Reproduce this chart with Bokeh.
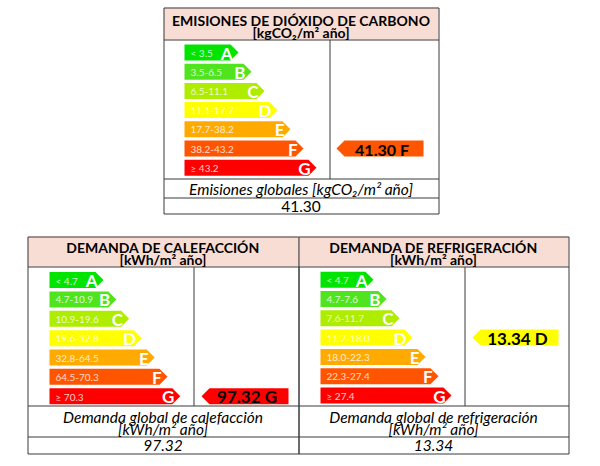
import numpy as np
from bokeh.plotting import figure
from bokeh.models import Range1d, ColumnDataSource
from bokeh.embed import file_html
from bokeh.resources import INLINE
from bokeh.core.properties import value

# ---------------- data ----------------
letters = ["A", "B", "C", "D", "E", "F", "G"]
class_colors = ["#00e400", "#50e41e", "#aeec00", "#ffff00", "#ffaa00", "#ff5500", "#ff0000"]

co2_ranges = ["< 3.5", "3.5-6.5", "6.5-11.1", "11.1-17.7", "17.7-38.2", "38.2-43.2", "≥ 43.2"]
co2_limits = [3.5, 6.5, 11.1, 17.7, 38.2, 43.2]
co2_value = 41.30

heat_ranges = ["< 4.7", "4.7-10.9", "10.9-19.6", "19.6-32.8", "32.8-64.5", "64.5-70.3", "≥ 70.3"]
heat_limits = [4.7, 10.9, 19.6, 32.8, 64.5, 70.3]
heat_value = 97.32

cool_ranges = ["< 4.7", "4.7-7.6", "7.6-11.7", "11.7-18.0", "18.0-22.3", "22.3-27.4", "≥ 27.4"]
cool_limits = [4.7, 7.6, 11.7, 18.0, 22.3, 27.4]
cool_value = 13.34

titles = ["EMISIONES DE DIÓXIDO DE CARBONO", "DEMANDA DE CALEFACCIÓN", "DEMANDA DE REFRIGERACIÓN"]
units = ["[kgCO₂/m² año]", "[kWh/m² año]", "[kWh/m² año]"]
footers = [["Emisiones globales [kgCO₂/m² año]"],
           ["Demanda global de calefacción", "[kWh/m² año]"],
           ["Demanda global de refrigeración", "[kWh/m² año]"]]

# ---------------- layout (screen pixels) ----------------
layouts = [
    dict(x0=163, x1=438, y0=7, yh=39, yc=178, yl=197, yv=213, xd=329,
         bl=184, tipA=238, tstep=13.0, cA=52, cstep=19.2, bh=16,
         ix0=336, ix1=423, ifs="16px", ty=19.5, uy=32, fy=[188], vy=205.5, vital=False),
    dict(x0=27, x1=298, y0=236, yh=266, yc=405, yl=436, yv=453, xd=193,
         bl=49, tipA=103, tstep=12.8, cA=279.6, cstep=19.35, bh=16,
         ix0=201, ix1=288, ifs="17px", ty=246.5, uy=259, fy=[416, 428], vy=445, vital=True),
    dict(x0=298, x1=568, y0=236, yh=266, yc=405, yl=436, yv=453, xd=464,
         bl=320, tipA=373, tstep=13.0, cA=279.2, cstep=19.3, bh=16,
         ix0=472, ix1=558, ifs="17px", ty=246.5, uy=259, fy=[416, 428], vy=445, vital=True),
]

panels = [
    (co2_ranges, co2_limits, co2_value),
    (heat_ranges, heat_limits, heat_value),
    (cool_ranges, cool_limits, cool_value),
]

FONT = "Lato"
LINE = "#3a3a3a"
HEADER_BG = "#f8ddd4"

p = figure(width=584, height=458, x_range=Range1d(0, 584), y_range=Range1d(458, 0),
           output_backend="svg", toolbar_location=None, min_border=0)
p.axis.visible = False
p.grid.visible = False
p.outline_line_color = None
p.background_fill_color = "white"
p.border_fill_color = "white"

for k, (L, (ranges, limits, val)) in enumerate(zip(layouts, panels)):
    # header background
    p.quad(left=[L["x0"]], right=[L["x1"]], top=[L["y0"]], bottom=[L["yh"]],
           fill_color=HEADER_BG, line_color=None)

    # bars
    idx = np.arange(len(letters))
    centers = L["cA"] + idx * L["cstep"]
    tips = L["tipA"] + idx * L["tstep"]
    h = L["bh"] / 2.0
    xs, ys = [], []
    for c, t in zip(centers, tips):
        xs.append([L["bl"], t - h, t, t - h, L["bl"]])
        ys.append([c - h, c - h, c, c + h, c + h])
    p.patches(xs=xs, ys=ys, fill_color=class_colors, line_color=None)

    src = ColumnDataSource(dict(x=[L["bl"] + 6] * 7, y=list(centers + 0.5), t=ranges))
    p.text(x="x", y="y", text="t", source=src, text_font=value(FONT), text_font_size="10px",
           text_color="white", text_alpha=0.8, text_baseline="middle", text_align="left")
    src2 = ColumnDataSource(dict(x=list(tips - 6), y=list(centers + 0.5), t=letters))
    p.text(x="x", y="y", text="t", source=src2, text_font=value(FONT), text_font_size="17px",
           text_font_style="bold", text_color="white", text_baseline="middle", text_align="right")

    # indicator
    ci = int(np.searchsorted(limits, val, side="right"))
    c = centers[ci]
    p.patches(xs=[[L["ix0"], L["ix0"] + h, L["ix1"], L["ix1"], L["ix0"] + h]],
              ys=[[c, c - h, c - h, c + h, c + h]], fill_color=class_colors[ci], line_color=None)
    p.text(x=[(L["ix0"] + L["ix1"]) / 2 + 2], y=[c + 0.5], text=[f"{val:.2f} {letters[ci]}"],
           text_font=value(FONT), text_font_size=L["ifs"], text_font_style="bold",
           text_color="black", text_baseline="middle", text_align="center")

    # grid lines
    xm = (L["x0"] + L["x1"]) / 2
    xl, xr = L["x0"] + 0.5, L["x1"] + 0.5
    hx = [[xl, xr], [xl, xr], [xl, xr], [xl, xr], [xl, xr], [xl, xl], [xr, xr],
          [L["xd"] + 0.5, L["xd"] + 0.5]]
    hy = [[L["y0"] + 0.5] * 2, [L["yh"] + 0.5] * 2, [L["yc"] + 0.5] * 2, [L["yl"] + 0.5] * 2,
          [L["yv"] + 0.5] * 2, [L["y0"] + 0.5, L["yv"] + 0.5], [L["y0"] + 0.5, L["yv"] + 0.5],
          [L["yh"] + 0.5, L["yc"] + 0.5]]
    p.multi_line(xs=hx, ys=hy, line_color=LINE, line_width=1)

    # header texts
    p.text(x=[xm], y=[L["ty"]], text=[titles[k]], text_font=value(FONT), text_font_size="14px",
           text_font_style="bold", text_color="black", text_baseline="middle", text_align="center")
    p.text(x=[xm], y=[L["uy"]], text=[units[k]], text_font=value(FONT), text_font_size="14px",
           text_font_style="bold", text_color="black", text_baseline="middle", text_align="center")

    # footer texts
    for fy, ft in zip(L["fy"], footers[k]):
        p.text(x=[xm], y=[fy], text=[ft], text_font=value(FONT), text_font_size="15.5px",
               text_font_style="italic", text_color="black", text_baseline="middle",
               text_align="center")
    p.text(x=[xm], y=[L["vy"]], text=[f"{val:.2f}"], text_font=value(FONT), text_font_size="15.5px",
           text_font_style="italic" if L["vital"] else "normal", text_color="black",
           text_baseline="middle", text_align="center")

open("out.html", "w").write(file_html(p, INLINE))
